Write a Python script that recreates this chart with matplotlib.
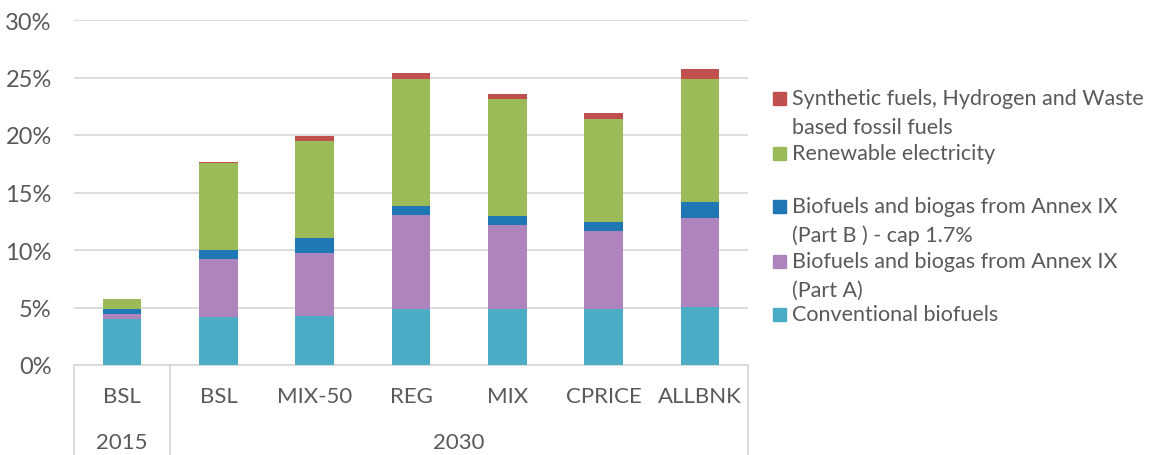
import matplotlib.pyplot as plt
from matplotlib.lines import Line2D
from matplotlib.patches import Rectangle
from matplotlib.ticker import PercentFormatter
from matplotlib.transforms import blended_transform_factory

plt.rcParams["font.family"] = ["Lato", "DejaVu Sans"]

# data (share of renewables in transport, %)
scenarios = ["BSL", "BSL", "MIX-50", "REG", "MIX", "CPRICE", "ALLBNK"]
years = ["2015", "2030"]
year_spans = [(0, 0), (1, 6)]

conventional = [4.0, 4.2, 4.3, 4.85, 4.85, 4.85, 5.05]
annex_a = [0.45, 5.0, 5.4, 8.2, 7.3, 6.8, 7.7]
annex_b = [0.45, 0.8, 1.35, 0.8, 0.8, 0.8, 1.45]
renew_elec = [0.8, 7.55, 8.45, 11.05, 10.15, 8.95, 10.7]
synthetic = [0.0, 0.1, 0.45, 0.45, 0.45, 0.55, 0.8]

series = [
    ("Conventional biofuels", conventional, "#4BACC6"),
    ("Biofuels and biogas from Annex IX\n(Part A)", annex_a, "#AD84BC"),
    ("Biofuels and biogas from Annex IX\n(Part B ) - cap 1.7%", annex_b, "#1F77B4"),
    ("Renewable electricity", renew_elec, "#9BBB59"),
    ("Synthetic fuels, Hydrogen and Waste\nbased fossil fuels", synthetic, "#C0504D"),
]

W, H = 1152, 456
TXT = "#595959"
fig = plt.figure(figsize=(W / 100, H / 100), dpi=100)
ax = fig.add_axes([74 / W, (H - 366) / H, 674 / W, 345 / H])

x = list(range(len(scenarios)))
bottom = [0.0] * len(scenarios)
for label, vals, color in series:
    ax.bar(x, vals, width=0.4, bottom=bottom, color=color, zorder=3)
    bottom = [b + v for b, v in zip(bottom, vals)]

ax.set_xlim(-0.5, len(scenarios) - 0.5)
ax.set_ylim(0, 30)
ax.set_yticks(range(0, 31, 5))
ax.yaxis.set_major_formatter(PercentFormatter(xmax=100, decimals=0))
ax.tick_params(axis="y", length=0, pad=16, labelsize=17, labelcolor=TXT)
ax.set_xticks([])
ax.grid(axis="y", color="#D9D9D9", lw=1.3, zorder=0)
for s in ["top", "right", "left"]:
    ax.spines[s].set_visible(False)
ax.spines["bottom"].set_color("#D9D9D9")
ax.spines["bottom"].set_linewidth(1.3)

# two-level category axis
trans = blended_transform_factory(ax.transData, fig.transFigure)
for i, name in enumerate(scenarios):
    ax.text(i, 1 - 397 / H, name, transform=trans, ha="center", va="center",
            fontsize=16, color=TXT)
for yr, (a, b) in zip(years, year_spans):
    ax.text((a + b) / 2, 1 - 443 / H, yr, transform=trans, ha="center", va="center",
            fontsize=16, color=TXT)
for xs in [-0.5, 0.5, len(scenarios) - 0.5]:
    ax.add_line(Line2D([xs, xs], [0, 1 - 366 / H], transform=trans, color="#D9D9D9",
                       lw=1.3, clip_on=False))

# legend, top entry first
legend_y = [99, 154, 207, 262, 315]
for (label, vals, color), yc in zip(reversed(series), legend_y):
    fig.patches.append(Rectangle((773 / W, 1 - (yc + 6.5) / H), 13 / W, 13 / H,
                                 transform=fig.transFigure, color=color))
    for k, line in enumerate(label.split("\n")):
        fig.text(792 / W, 1 - (yc + 29 * k) / H, line, ha="left", va="center",
                 fontsize=15.5, color=TXT)

fig.savefig("out.png", dpi=100)
